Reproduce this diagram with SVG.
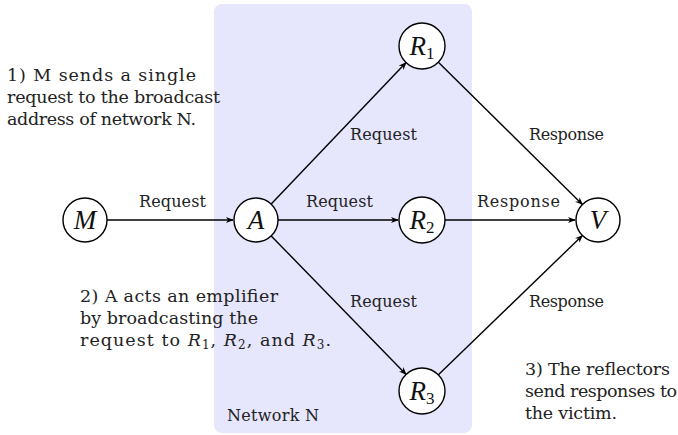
<svg xmlns="http://www.w3.org/2000/svg" width="678" height="435" viewBox="0 0 678 435">
<style>
.n{fill:#fff;stroke:#000;stroke-width:1.4}
.nt{font-family:"Liberation Serif",serif;font-style:italic;font-size:27px;text-anchor:middle;fill:#111}
.sub{font-size:17px;font-style:normal}
.e{stroke:#000;stroke-width:1.4;fill:none;marker-end:url(#ah)}
.lbl{font-family:"DejaVu Serif",serif;font-size:16px;fill:#222}
.t{font-family:"DejaVu Serif",serif;font-size:17.5px;fill:#222}
</style>
<defs>
<marker id="ah" viewBox="0 0 10 10" refX="9" refY="5" markerWidth="8" markerHeight="8" orient="auto" markerUnits="userSpaceOnUse">
<path d="M0,1 L10,5 L0,9 L3,5 Z" fill="#000"/>
</marker>
</defs>
<g id="network">
<rect x="214" y="4" width="258" height="429" rx="8" fill="#e6e6fd"/>
<text class="t" x="227" y="421" fill="#444" textLength="92" style="font-size:16px">Network N</text>
</g>
<g id="connectors">
<line class="e" x1="107" y1="220" x2="233" y2="220"/>
<line class="e" x1="278" y1="220" x2="398" y2="220"/>
<line class="e" x1="271.2" y1="204.1" x2="406.1" y2="62.6"/>
<line class="e" x1="271.2" y1="235.9" x2="406.1" y2="374.4"/>
<line class="e" x1="445" y1="220" x2="575" y2="220"/>
<line class="e" x1="438.4" y1="62.2" x2="582.4" y2="204.5"/>
<line class="e" x1="438.4" y1="374.8" x2="582.4" y2="235.5"/>
<text class="lbl" x="139" y="207" textLength="67">Request</text>
<text class="lbl" x="306" y="207" textLength="67">Request</text>
<text class="lbl" x="477" y="207" textLength="83">Response</text>
<text class="lbl" x="350" y="140" textLength="67">Request</text>
<text class="lbl" x="529" y="140" textLength="75">Response</text>
<text class="lbl" x="350" y="307" textLength="67">Request</text>
<text class="lbl" x="529" y="307" textLength="75">Response</text>
</g>
<g id="M"><circle class="n" cx="85" cy="220" r="22"/><text class="nt" x="85" y="229">M</text></g>
<g id="A"><circle class="n" cx="256" cy="220" r="22"/><text class="nt" x="256" y="229">A</text></g>
<g id="R1"><circle class="n" cx="422" cy="46" r="23"/><text class="nt" x="422" y="55">R<tspan class="sub" dy="4">1</tspan></text></g>
<g id="R2"><circle class="n" cx="422" cy="220" r="23"/><text class="nt" x="422" y="229">R<tspan class="sub" dy="4">2</tspan></text></g>
<g id="R3"><circle class="n" cx="422" cy="391" r="23"/><text class="nt" x="422" y="400">R<tspan class="sub" dy="4">3</tspan></text></g>
<g id="V"><circle class="n" cx="598" cy="220" r="22"/><text class="nt" x="598" y="229">V</text></g>
<g id="notes">
<text class="t" x="7" y="81" textLength="189">1) M sends a single</text>
<text class="t" x="7" y="103" textLength="213">request to the broadcast</text>
<text class="t" x="7" y="125" textLength="189">address of network N.</text>
<text class="t" x="80" y="302" textLength="198">2) A acts an emplifier</text>
<text class="t" x="80" y="324" textLength="178">by broadcasting the</text>
<text class="t" x="80" y="346" textLength="251">request to <tspan font-style="italic">R</tspan><tspan font-size="12" dy="3">1</tspan><tspan dy="-3">, </tspan><tspan font-style="italic">R</tspan><tspan font-size="12" dy="3">2</tspan><tspan dy="-3">, and </tspan><tspan font-style="italic">R</tspan><tspan font-size="12" dy="3">3</tspan><tspan dy="-3">.</tspan></text>
<text class="t" x="525" y="375" textLength="145">3) The reflectors</text>
<text class="t" x="525" y="397" textLength="152">send responses to</text>
<text class="t" x="525" y="419" textLength="92">the victim.</text>
</g>
</svg>
